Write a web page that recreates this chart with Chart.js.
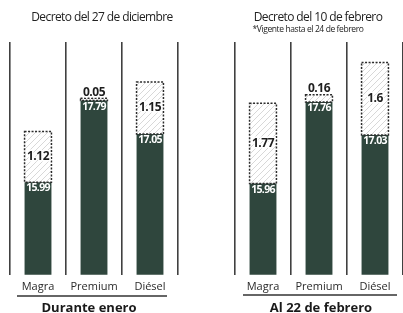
<!DOCTYPE html>
<html>
<head>
<meta charset="utf-8">
<script src="https://cdn.jsdelivr.net/npm/chart.js@4.4.0/dist/chart.umd.min.js"></script>
<style>
  html, body { margin: 0; padding: 0; background: #fff; }
  #wrap { position: relative; width: 403px; height: 313px; overflow: hidden; background: #fff; }
  canvas { position: absolute; top: 0; }
  #enero { left: 0; }
  #febrero { left: 200px; }
</style>
</head>
<body>
<div id="wrap">
  <canvas id="enero" width="200" height="313"></canvas>
  <canvas id="febrero" width="203" height="313"></canvas>
</div>
<script>
var categories = ['Magra', 'Premium', 'Diésel'];
var eneroPrecio = [15.99, 17.79, 17.05];
var eneroEstimulo = [1.12, 0.05, 1.15];
var febreroPrecio = [15.96, 17.76, 17.03];
var febreroEstimulo = [1.77, 0.16, 1.6];

var verde = '#2f463d';
var fuente = "'Open Sans', sans-serif";

// white fill with faint diagonal hatching for the "estimulo" part
function rayado(ctx) {
  var c = document.createElement('canvas');
  c.width = 6; c.height = 6;
  var g = c.getContext('2d');
  g.fillStyle = '#fff';
  g.fillRect(0, 0, 6, 6);
  g.strokeStyle = '#d8d8d8';
  g.lineWidth = 1;
  g.beginPath();
  g.moveTo(-1, 7); g.lineTo(7, -1);
  g.stroke();
  return ctx.createPattern(c, 'repeat');
}

var etiquetas = {
  id: 'etiquetas',
  afterDatasetsDraw: function(chart) {
    var ctx = chart.ctx;
    var precio = chart.getDatasetMeta(0);
    var extra = chart.getDatasetMeta(1);
    ctx.save();
    ctx.textAlign = 'center';
    ctx.textBaseline = 'middle';

    // dotted outline of the upper box
    extra.data.forEach(function(bar) {
      var p = bar.getProps(['x', 'y', 'base', 'width'], true);
      ctx.setLineDash([2, 1.5]);
      ctx.lineWidth = 1.5;
      ctx.strokeStyle = '#2b2b2b';
      ctx.strokeRect(p.x - p.width / 2, p.y, p.width, p.base - p.y);
    });
    ctx.setLineDash([]);

    precio.data.forEach(function(bar, i) {
      var p = bar.getProps(['x', 'y'], true);
      ctx.font = 'bold 10.5px ' + fuente;
      ctx.letterSpacing = '-0.7px';
      ctx.fillStyle = '#fff';
      ctx.fillText(chart.data.datasets[0].data[i].toFixed(2), p.x, p.y + 6);
    });

    extra.data.forEach(function(bar, i) {
      var p = bar.getProps(['x', 'y', 'base'], true);
      var h = p.base - p.y;
      var ty = h > 16 ? p.y + h / 2 : p.y - 6;
      var txt = String(chart.data.datasets[1].data[i]);
      ctx.font = 'bold 12px ' + fuente;
      ctx.letterSpacing = '-0.5px';
      ctx.lineJoin = 'round';
      ctx.lineWidth = 3;
      ctx.strokeStyle = '#fff';
      ctx.strokeText(txt, p.x, ty);
      ctx.fillStyle = '#1e1e1e';
      ctx.fillText(txt, p.x, ty);
    });
    ctx.restore();
  }
};

var rotulos = {
  id: 'rotulos',
  afterDraw: function(chart, args, o) {
    var ctx = chart.ctx;
    ctx.save();
    ctx.textAlign = 'center';
    ctx.textBaseline = 'alphabetic';
    ctx.fillStyle = '#222';
    ctx.font = '12px ' + fuente;
    ctx.letterSpacing = '-0.6px';
    ctx.fillText(o.titulo, o.tituloX, 21);
    if (o.nota) {
      ctx.font = '8.5px ' + fuente;
      ctx.letterSpacing = '-0.4px';
      ctx.fillText(o.nota, o.notaX, 32);
    }
    ctx.strokeStyle = '#333';
    ctx.lineWidth = 1.5;
    ctx.beginPath();
    ctx.moveTo(o.lineaDe, o.lineaY);
    ctx.lineTo(o.lineaA, o.lineaY);
    ctx.stroke();
    ctx.font = 'bold 13px ' + fuente;
    ctx.letterSpacing = '0px';
    ctx.fillStyle = '#1a1a1a';
    ctx.fillText(o.pie, o.pieX, 312);
    ctx.restore();
  }
};

function crear(id, precio, estimulo, padding, rot) {
  var ctx = document.getElementById(id).getContext('2d');
  return new Chart(ctx, {
    type: 'bar',
    data: {
      labels: categories,
      datasets: [{
        data: precio,
        backgroundColor: verde,
        borderWidth: 0,
        barPercentage: 0.48,
        categoryPercentage: 1
      }, {
        data: estimulo,
        backgroundColor: rayado(ctx),
        borderWidth: 0,
        barPercentage: 0.48,
        categoryPercentage: 1
      }]
    },
    options: {
      responsive: false,
      animation: false,
      layout: { padding: padding },
      scales: {
        x: {
          stacked: true,
          grid: { display: true, offset: true, color: '#404040', lineWidth: 1.6, drawTicks: false },
          border: { display: false },
          ticks: { font: { family: fuente, size: 11 }, color: '#2a2a2a', padding: 5 }
        },
        y: {
          stacked: true,
          display: false,
          min: 13.95,
          max: 19.08
        }
      },
      plugins: {
        legend: { display: false },
        tooltip: { enabled: false },
        rotulos: rot
      }
    },
    plugins: [etiquetas, rotulos]
  });
}

crear('enero', eneroPrecio, eneroEstimulo,
  { left: 10, right: 22, top: 42, bottom: 15 },
  { titulo: 'Decreto del 27 de diciembre', tituloX: 102, lineaDe: 17, lineaA: 167, lineaY: 296,
    pie: 'Durante enero', pieX: 89 });

crear('febrero', febreroPrecio, febreroEstimulo,
  { left: 35, right: 0, top: 42, bottom: 15 },
  { titulo: 'Decreto del 10 de febrero', tituloX: 118,
    nota: '*Vigente hasta el 24 de febrero', notaX: 108,
    lineaDe: 43, lineaA: 197, lineaY: 295,
    pie: 'Al 22 de febrero', pieX: 121 });
</script>
</body>
</html>
